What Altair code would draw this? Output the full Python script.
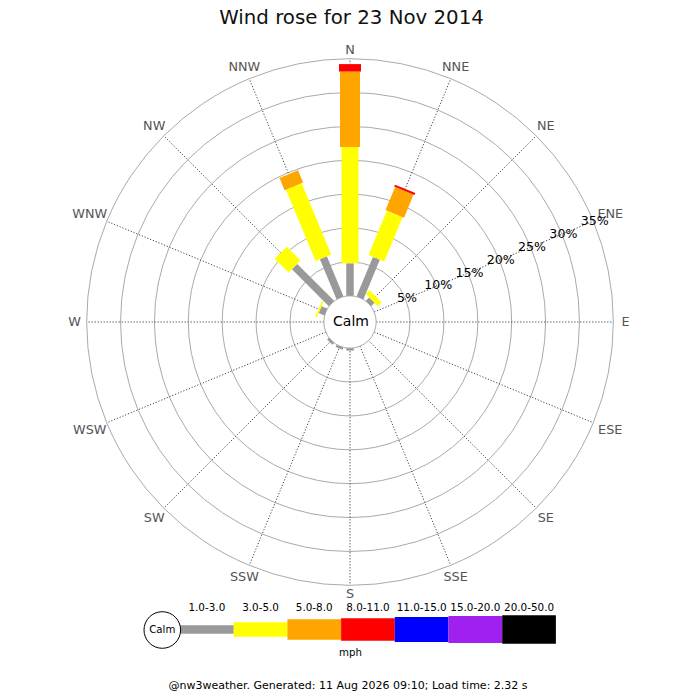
import altair as alt
import pandas as pd

# ---------------- data ----------------
directions = ["N", "NNE", "NE", "ENE", "E", "ESE", "SE", "SSE",
              "S", "SSW", "SW", "WSW", "W", "WNW", "NW", "NNW"]
speed_classes = ["1.0-3.0", "3.0-5.0", "5.0-8.0", "8.0-11.0",
                 "11.0-15.0", "15.0-20.0", "20.0-50.0"]
# frequency (% of the day) per direction, one list per speed class
pct_1_3 = [4.8, 6.3, 0.7, 0, 0, 0, 0, 0, 0.35, 0.35, 0.35, 0, 0, 0.9, 7.7, 6.4]
pct_3_5 = [17.15, 7.1, 0.8, 0, 0, 0, 0, 0, 0, 0, 0, 0, 0, 0.25, 2.9, 11.4]
pct_5_8 = [11.15, 3.7, 0, 0, 0, 0, 0, 0, 0, 0, 0, 0, 0, 0, 0, 1.95]
pct_8_11 = [1.1, 0.3, 0, 0, 0, 0, 0, 0, 0, 0, 0, 0, 0, 0, 0, 0]
pct_11_15 = [0, 0, 0, 0, 0, 0, 0, 0, 0, 0, 0, 0, 0, 0, 0, 0]
pct_15_20 = [0, 0, 0, 0, 0, 0, 0, 0, 0, 0, 0, 0, 0, 0, 0, 0]
pct_20_50 = [0, 0, 0, 0, 0, 0, 0, 0, 0, 0, 0, 0, 0, 0, 0, 0]
ring_pcts = [5, 10, 15, 20, 25, 30, 35]
ring_labels = ["5%", "10%", "15%", "20%", "25%", "30%", "35%"]
title_text = "Wind rose for 23 Nov 2014"
unit_text = "mph"
calm_text = "Calm"
footer_text = "@nw3weather. Generated: 11 Aug 2026 09:10; Load time: 2.32 s"

series = [pct_1_3, pct_3_5, pct_5_8, pct_8_11, pct_11_15, pct_15_20, pct_20_50]

rows = []
for d, name in enumerate(directions):
    cum = 0.0
    for c, vals in enumerate(series):
        v = vals[d]
        if v > 0:
            rows.append({"dir": name, "di": d, "cls": speed_classes[c], "ci": c,
                         "start": cum, "end": cum + v})
            cum += v
bars_df = pd.DataFrame(rows)
dir_df = pd.DataFrame({"dir": directions, "di": list(range(len(directions)))})
ring_df = pd.DataFrame({"p": ring_pcts, "lab": ring_labels})
cls_df = pd.DataFrame({"cls": speed_classes, "ci": list(range(len(speed_classes)))})

# ---------------- styles / layout ----------------
class_colors = ["#999999", "#ffff00", "#ffa500", "#ff0000", "#0000ff", "#a020f0", "#000000"]
rose_widths = [7.5, 17, 20, 22, 24, 26, 28]
legend_widths = [8.3, 14.3, 20.3, 22.7, 25, 27, 28.7]
FONT = "DejaVu Sans"
OFF = 8                      # page margin
CX, CY = 350, 322            # rose centre (page px)
R0, K = 26.2, 6.775          # calm radius, px per percent
ROUT = R0 + K * max(ring_pcts)
LX0, LSEG, LY = 180, 53.7, 629.5   # legend bar row

XS = alt.Scale(domain=[OFF, 700 - OFF], nice=False, zero=False)
YS = alt.Scale(domain=[OFF, 700 - OFF], nice=False, zero=False, reverse=True)


def xenc(f):
    return alt.X(f, type="quantitative", scale=XS, axis=None)


def yenc(f):
    return alt.Y(f, type="quantitative", scale=YS, axis=None)


# rings
rings = alt.Chart(ring_df).transform_calculate(
    r=f"{R0}+{K}*datum.p"
).transform_calculate(
    cx=f"{CX}", cy=f"{CY}", s="4*datum.r*datum.r"
).mark_point(shape="circle", filled=False, stroke="#aaaaaa", strokeWidth=1, opacity=1).encode(
    x=xenc("cx"), y=yenc("cy"), size=alt.Size("s:Q", scale=None)
)

# spokes
spokes = alt.Chart(dir_df).transform_calculate(
    a="datum.di*PI/8"
).transform_calculate(
    x=f"{CX}+{R0}*sin(datum.a)", y=f"{CY}-{R0}*cos(datum.a)",
    x2=f"{CX}+{ROUT}*sin(datum.a)", y2=f"{CY}-{ROUT}*cos(datum.a)"
).mark_rule(color="#444444", strokeWidth=1, strokeDash=[1.2, 1.8]).encode(
    x=xenc("x"), y=yenc("y"), x2="x2:Q", y2="y2:Q"
)

# direction labels
dir_labels = alt.Chart(dir_df).transform_calculate(
    a="datum.di*PI/8"
).transform_calculate(
    r="272+3.5*length(datum.dir)*abs(sin(datum.a))"
).transform_calculate(
    x=f"{CX}+datum.r*sin(datum.a)", y=f"{CY}-datum.r*cos(datum.a)"
).mark_text(font=FONT, fontSize=12.8, color="#555555", align="center", baseline="middle").encode(
    x=xenc("x"), y=yenc("y"), text="dir:N"
)

# calm disc
calm_disc = alt.Chart(pd.DataFrame({"t": [calm_text]})).mark_point(
    shape="circle", filled=True, fill="white", stroke="#aaaaaa", strokeWidth=1, opacity=1
).encode(
    x=alt.value(CX - OFF), y=alt.value(CY - OFF), size=alt.value(4 * R0 * R0)
)

# bars
bars = alt.Chart(bars_df).transform_calculate(
    a="datum.di*PI/8",
).transform_calculate(
    r1=f"{R0}+{K}*datum.start", r2=f"{R0}+{K}*datum.end", w=f"{rose_widths}[datum.ci]"
).transform_calculate(
    x=f"{CX}+datum.r1*sin(datum.a)", y=f"{CY}-datum.r1*cos(datum.a)",
    x2=f"{CX}+datum.r2*sin(datum.a)", y2=f"{CY}-datum.r2*cos(datum.a)"
).mark_rule(strokeCap="butt").encode(
    x=xenc("x"), y=yenc("y"), x2="x2:Q", y2="y2:Q",
    color=alt.Color("cls:N", scale=alt.Scale(domain=speed_classes, range=class_colors), legend=None),
    strokeWidth=alt.StrokeWidth("w:Q", scale=None)
)

# percentage labels along ENE
pct_labels = alt.Chart(ring_df).transform_calculate(
    r=f"{R0}+{K}*datum.p+1.5", a="3*PI/8"
).transform_calculate(
    x=f"{CX}+datum.r*sin(datum.a)", y=f"{CY}-datum.r*cos(datum.a)"
).mark_text(font=FONT, fontSize=12.6, color="black", align="center", baseline="middle").encode(
    x=xenc("x"), y=yenc("y"), text="lab:N"
)

calm_label = alt.Chart(pd.DataFrame({"t": [calm_text]})).mark_text(
    font=FONT, fontSize=14, color="black", align="center", baseline="middle"
).encode(x=alt.value(351 - OFF), y=alt.value(322 - OFF), text="t:N")

title = alt.Chart(pd.DataFrame({"t": [title_text]})).mark_text(
    font=FONT, fontSize=19.8, color="#111111", align="center", baseline="alphabetic"
).encode(x=alt.value(351.5 - OFF), y=alt.value(24 - OFF), text="t:N")

# legend
leg_bars = alt.Chart(cls_df).transform_calculate(
    x=f"{LX0}+datum.ci*{LSEG}", x2=f"{LX0}+(datum.ci+1)*{LSEG}", y=f"{LY}",
    w=f"{legend_widths}[datum.ci]"
).mark_rule(strokeCap="butt").encode(
    x=xenc("x"), y=yenc("y"), x2="x2:Q", y2="y:Q",
    color=alt.Color("cls:N", scale=alt.Scale(domain=speed_classes, range=class_colors), legend=None),
    strokeWidth=alt.StrokeWidth("w:Q", scale=None)
)
leg_labels = alt.Chart(cls_df).transform_calculate(
    x=f"{LX0}+(datum.ci+0.5)*{LSEG}", y="610.5"
).mark_text(font=FONT, fontSize=10.4, color="black", align="center", baseline="alphabetic").encode(
    x=xenc("x"), y=yenc("y"), text="cls:N"
)
leg_calm = alt.Chart(pd.DataFrame({"t": [calm_text]})).mark_point(
    shape="circle", filled=True, fill="white", stroke="black", strokeWidth=1, opacity=1
).encode(x=alt.value(162.3 - OFF), y=alt.value(630 - OFF), size=alt.value(4 * 18.3 * 18.3))
leg_calm_text = alt.Chart(pd.DataFrame({"t": [calm_text]})).mark_text(
    font=FONT, fontSize=10.2, color="black", align="center", baseline="middle"
).encode(x=alt.value(162.3 - OFF), y=alt.value(630 - OFF), text="t:N")
unit = alt.Chart(pd.DataFrame({"t": [unit_text]})).mark_text(
    font=FONT, fontSize=10.2, color="black", align="center", baseline="alphabetic"
).encode(x=alt.value(350.5 - OFF), y=alt.value(656 - OFF), text="t:N")
footer = alt.Chart(pd.DataFrame({"t": [footer_text]})).mark_text(
    font=FONT, fontSize=11, color="black", align="center", baseline="alphabetic"
).encode(x=alt.value(348 - OFF), y=alt.value(681), text="t:N")

chart = alt.layer(
    rings, spokes, dir_labels, calm_disc, bars, pct_labels, calm_label, title,
    leg_bars, leg_labels, leg_calm, leg_calm_text, unit, footer
).properties(
    width=700 - 2 * OFF, height=700 - 2 * OFF,
    autosize=alt.AutoSizeParams(type="none"), padding=0, background="white"
).configure_view(stroke=None)

chart.save("out.html", embed_options={"renderer": "svg", "actions": False})
